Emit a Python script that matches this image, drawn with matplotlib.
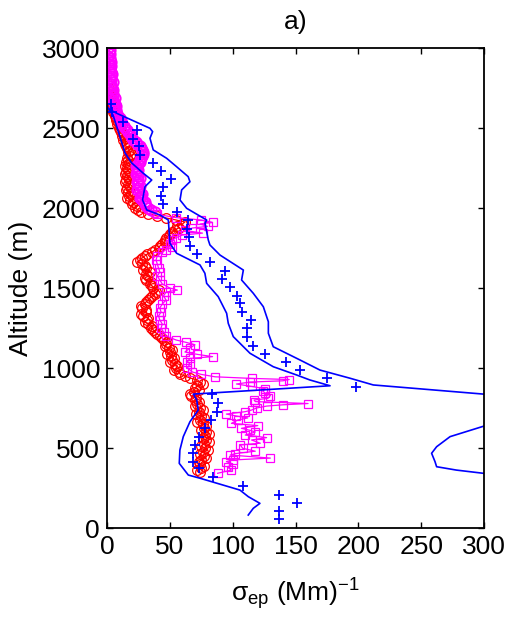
import matplotlib
matplotlib.use("Agg")
import matplotlib.pyplot as plt

plt.rcParams['font.family'] = ['Liberation Sans', 'DejaVu Sans']
plt.rcParams['mathtext.fontset'] = 'custom'
plt.rcParams['mathtext.rm'] = 'Liberation Sans'
plt.rcParams['mathtext.it'] = 'Liberation Sans:italic'

# ---- red circles + line (profile 1) ----
red_alt = [2750, 2737.5, 2725, 2712.5, 2700, 2687.5, 2675, 2662.5,
           2650, 2637.5, 2625, 2612.5, 2600, 2587.5, 2575, 2562.5,
           2550, 2537.5, 2525, 2512.5, 2500, 2487.5, 2475, 2462.5,
           2450, 2437.5, 2425, 2412.5, 2400, 2387.5, 2375, 2362.5,
           2350, 2337.5, 2325, 2312.5, 2300, 2287.5, 2275, 2262.5,
           2250, 2237.5, 2225, 2212.5, 2200, 2187.5, 2175, 2162.5,
           2150, 2137.5, 2125, 2112.5, 2100, 2087.5, 2075, 2062.5,
           2050, 2037.5, 2025, 2012.5, 2000, 1987.5, 1975, 1962.5,
           1950, 1937.5, 1925, 1912.5, 1900, 1887.5, 1875, 1862.5,
           1850, 1837.5, 1825, 1812.5, 1800, 1787.5, 1775, 1762.5,
           1750, 1737.5, 1725, 1712.5, 1700, 1687.5, 1675, 1662.5,
           1650, 1637.5, 1625, 1612.5, 1600, 1587.5, 1575, 1562.5,
           1550, 1537.5, 1525, 1512.5, 1500, 1487.5, 1475, 1462.5,
           1450, 1437.5, 1425, 1412.5, 1400, 1387.5, 1375, 1362.5,
           1350, 1337.5, 1325, 1312.5, 1300, 1287.5, 1275, 1262.5,
           1250, 1237.5, 1225, 1212.5, 1200, 1187.5, 1175, 1162.5,
           1150, 1137.5, 1125, 1112.5, 1100, 1087.5, 1075, 1062.5,
           1050, 1037.5, 1025, 1012.5, 1000, 987.5, 975, 962.5,
           950, 937.5, 925, 912.5, 900, 887.5, 875, 862.5,
           850, 837.5, 825, 812.5, 800, 787.5, 775, 762.5,
           750, 737.5, 725, 712.5, 700, 687.5, 675, 662.5,
           650, 637.5, 625, 612.5, 600, 587.5, 575, 562.5,
           550, 537.5, 525, 512.5, 500, 487.5, 475, 462.5,
           450, 437.5, 425, 412.5, 400, 387.5, 375, 362.5,
           350]
red_x = [1.5, 1, 2, 1.5, 2.5, 3, 2, 3,
         3.5, 3, 4, 5, 5, 6.5, 6, 7,
         7.5, 9, 8, 10, 9.5, 10, 11, 12.5,
         12, 14, 13, 15, 14.5, 15, 16, 18,
         17, 19, 18, 16, 17, 15, 16.5, 14,
         16, 17, 15.5, 14, 16, 17.5, 15, 14,
         16.5, 18, 16, 15, 17, 19, 17.5, 16,
         18, 21, 20, 24, 22, 25, 27, 33,
         40, 47, 55, 62, 60, 56, 57, 54,
         52, 50, 49, 47, 46, 46, 44, 42,
         41, 38, 36, 32, 30, 28, 26, 24,
         28, 30, 31, 29, 34, 31, 33, 30,
         31, 35, 34, 36, 37, 41, 39, 38,
         36, 34, 33, 31, 30, 27, 28, 31,
         31, 27, 29, 33, 32, 30, 33, 36,
         35, 37, 38, 40, 42, 44, 45, 48,
         47, 46, 49, 52, 50, 48, 51, 53,
         52, 50, 54, 56, 55, 53, 57, 58,
         62, 66, 72, 74, 76, 72, 70, 73,
         69, 66, 67, 71, 70, 73, 72, 70,
         74, 76, 73, 71, 75, 77, 74, 72,
         76, 79, 77, 75, 79, 81, 78, 76,
         79, 81, 77, 75, 78, 80, 76, 74,
         77, 79, 75, 73, 74, 77, 75, 72,
         74]

# ---- magenta circles (upper part of profile 2) ----
mc_alt = [3000, 2987.5, 2975, 2962.5, 2950, 2937.5, 2925, 2912.5,
          2900, 2887.5, 2875, 2862.5, 2850, 2837.5, 2825, 2812.5,
          2800, 2787.5, 2775, 2762.5, 2750, 2737.5, 2725, 2712.5,
          2700, 2687.5, 2675, 2662.5, 2650, 2637.5, 2625, 2612.5,
          2600, 2587.5, 2575, 2562.5, 2550, 2537.5, 2525, 2512.5,
          2500, 2487.5, 2475, 2462.5, 2450, 2437.5, 2425, 2412.5,
          2400, 2387.5, 2375, 2362.5, 2350, 2337.5, 2325, 2312.5,
          2300, 2287.5, 2275, 2262.5, 2250, 2237.5, 2225, 2212.5,
          2200, 2187.5, 2175, 2162.5, 2150, 2137.5, 2125, 2112.5,
          2100, 2087.5, 2075, 2062.5, 2050, 2037.5, 2025, 2012.5,
          2000, 1987.5, 1975]
mc_x = [1, 2, 1.5, 2.5, 1, 2, 2, 3,
        2, 3.5, 2.5, 2, 3, 4, 3.5, 2.5,
        3, 4.5, 3.5, 3, 4, 5, 4, 4.5,
        5, 6, 5, 5.5, 6, 7, 6.5, 7.5,
        7, 8, 9, 10, 11, 11, 12, 13.5,
        14, 16, 17, 18, 19, 20, 21, 23,
        24, 26, 27, 28, 29, 29, 28, 27,
        26, 26, 25, 23, 24, 25, 24, 23,
        25, 26, 25, 24, 25, 26, 25, 24,
        26, 28, 27, 26, 28, 30, 30, 31,
        33, 35, 38]

# ---- magenta squares + line (lower part of profile 2) ----
ms_alt = [1960, 1940, 1925, 1910, 1900, 1885, 1875, 1860, 1843, 1831,
          1815, 1800, 1775, 1758, 1740, 1725, 1700, 1675, 1650, 1625,
          1600, 1575, 1550, 1525, 1500, 1487, 1475, 1450, 1425, 1400,
          1375, 1350, 1325, 1300, 1275, 1250, 1225, 1200, 1175, 1160,
          1145, 1125, 1100, 1085, 1071, 1060, 1040, 1025, 1000, 975,
          960, 945, 935, 928, 920, 912, 900, 885, 870, 855,
          843, 828, 810, 800, 790, 778, 770, 762, 750, 737,
          727, 712, 700, 688, 675, 654, 640, 623, 610, 600,
          581, 565, 550, 530, 519, 498, 480, 465, 456, 437,
          425, 415, 400, 380, 362, 342]
ms_x = [40, 55, 75, 84, 74, 80, 68, 62, 76, 60,
        55, 52, 50, 52, 47, 44, 40, 39, 40, 41,
        42, 40, 42, 44, 50, 56, 47, 45, 47, 44,
        42, 43, 41, 42, 44, 43, 45, 47, 55, 63,
        70, 66, 62, 72, 84, 66, 64, 66, 64, 68,
        75, 86, 115, 145, 140, 114, 103, 115, 126, 124,
        126, 130, 128, 117, 118, 160, 140, 127, 119, 115,
        110, 95, 103, 112, 104, 99, 120, 107, 114, 118,
        110, 127, 115, 122, 106, 108, 118, 102, 98, 130,
        100, 95, 100, 96, 99, 88]

# ---- blue crosses ----
bp_alt = [2650, 2600, 2540, 2488, 2433, 2388, 2331, 2283, 2231, 2179,
          2131, 2077, 2025, 1973, 1925, 1871, 1821, 1762, 1712, 1660,
          1608, 1556, 1504, 1452, 1404, 1352, 1300, 1248, 1196, 1140,
          1090, 1040, 987, 935, 883, 837, 779, 727, 675, 623,
          571, 519, 467, 415, 373, 317, 262, 206, 154, 108, 54]
bp_x = [3, 4, 12.5, 23.6, 20.4, 25.7, 26.3, 36.9, 42.6, 51.2,
        44.2, 42.6, 44.2, 55.4, 64.7, 63.9, 65.5, 66, 71.3, 82,
        93.9, 91.2, 97.9, 103.2, 105.8, 107.1, 114.6, 111.2, 111.7, 116.5,
        125.7, 142.4, 153.6, 174.8, 198.2, 83.3, 88.6, 87.2, 82.8, 78,
        73.2, 70, 68.7, 68.7, 73.2, 84.6, 108.5, 136.9, 151, 136.9, 136.9]

# ---- blue envelope lines ----
blo_alt = [2633, 2581, 2446, 2344, 2281, 2217, 2175, 2133, 2050, 1988,
           1956, 1925, 1779, 1717, 1644, 1592, 1529, 1446, 1342, 1279,
           1196, 1092, 1008, 956, 925, 889, 837, 800, 737, 664,
           571, 487, 404, 331, 311, 237, 196, 154, 123, 81]
blo_x = [0.2, 4.8, 10.3, 14.3, 19.7, 28.9, 35.6, 30.2, 28.3, 31.6,
         42.2, 48.8, 50.1, 55.4, 74, 77.9, 79.3, 88.5, 95.2, 96.5,
         100.5, 113.8, 132.3, 151, 161.5, 177.5, 68.7, 71.4, 72.6, 66,
         60.7, 58, 57.5, 64.7, 74, 105.8, 112.4, 121.7, 116.4, 112.4]
bhi_alt = [2625, 2592, 2498, 2477, 2436, 2363, 2311, 2258, 2196, 2164,
           2113, 2050, 1998, 1925, 1904, 1800, 1769, 1706, 1612, 1550,
           1467, 1383, 1289, 1217, 1133, 1050, 987, 936, 894, 837,
           810, 760, 690, 637, 571, 508, 467, 415, 383, 362,
           342, 250, 120]
bhi_x = [0, 7.7, 34.2, 36.3, 34.2, 36.8, 47.4, 55.4, 64.6, 66,
         59.4, 58.1, 63.4, 79.3, 78, 80.6, 81.9, 89.9, 108.5, 107.1,
         116.4, 124.4, 128.4, 128.4, 132.3, 153.6, 169.5, 193.4, 211.9, 299.4,
         340, 350, 330, 300, 273, 262.3, 258.3, 261, 262.3, 278,
         299.4, 330, 335]

x_ticks = [0, 50, 100, 150, 200, 250, 300]
y_ticks = [0, 500, 1000, 1500, 2000, 2500, 3000]

fig = plt.figure(figsize=(5.08, 6.19), dpi=100)
ax = fig.add_axes([107/508, 1-528/619, (484-107)/508, (528-48)/619])

RED = (1, 0, 0)
MAG = (1, 0, 1)
BLUE = (0, 0, 1)

ax.plot(red_x, red_alt, '-', color=RED, lw=0.9, marker='o', ms=7,
        mfc='none', mec=RED, mew=0.9)
ax.plot(mc_x, mc_alt, '-', color=MAG, lw=0.9, marker='o', ms=7.5,
        mfc='none', mec=MAG, mew=1.3)
ax.plot(ms_x, ms_alt, '-', color=MAG, lw=0.9, marker='s', ms=6,
        mfc='none', mec=MAG, mew=0.9)
ax.plot(blo_x, blo_alt, '-', color=BLUE, lw=1.2)
ax.plot(bhi_x, bhi_alt, '-', color=BLUE, lw=1.2)
ax.plot(bp_x, bp_alt, '+', color=BLUE, ms=7, mew=1.3, ls='none')

ax.set_xlim(0, 300)
ax.set_ylim(0, 3000)
ax.set_xticks(x_ticks)
ax.set_yticks(y_ticks)
ax.tick_params(direction='in', top=True, right=True, length=4, width=1,
               labelsize=19, pad=5)
for s in ax.spines.values():
    s.set_linewidth(1.3)

ax.set_xlabel(r'σ$_{\mathrm{ep}}$ (Mm)$^{-1}$', fontsize=19, labelpad=12)
ax.set_ylabel('Altitude (m)', fontsize=19, labelpad=6)
ax.set_title('a)', fontsize=19, pad=14)

fig.savefig('out.png', dpi=100)
